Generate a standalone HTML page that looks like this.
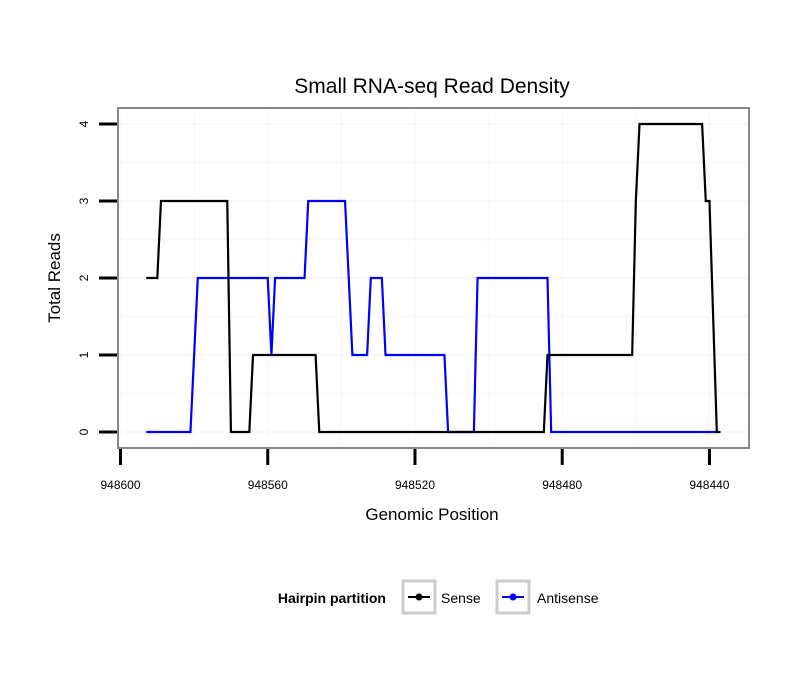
<!DOCTYPE html>
<html><head><meta charset="utf-8"><style>
body{margin:0;background:#fff;}
svg text{font-family:"Liberation Sans",sans-serif;}
</style></head><body>
<svg id="chart" width="810" height="690" xmlns="http://www.w3.org/2000/svg">
<rect width="810" height="690" fill="#fff"/>
<text x="432" y="93" font-size="21" text-anchor="middle">Small RNA-seq Read Density</text>
<g id="grid"></g>
<g id="series"></g>
<rect x="118" y="108" width="631" height="340" fill="none" stroke="#888" stroke-width="2"/>
<g id="axes"></g>
<text x="432" y="520" font-size="17" text-anchor="middle">Genomic Position</text>
<text transform="translate(60,278) rotate(-90)" font-size="17" text-anchor="middle">Total Reads</text>
<g>
<text x="386" y="603" font-size="14" font-weight="bold" text-anchor="end">Hairpin partition</text>
<g>
<rect x="403" y="581" width="32" height="32" fill="#fff" stroke="#ccc" stroke-width="3"/>
<line x1="408" y1="597" x2="430" y2="597" stroke="#000" stroke-width="2"/>
<circle cx="419" cy="597" r="3.5" fill="#000"/>
<text x="441" y="603" font-size="14">Sense</text>
</g>
<g>
<rect x="497" y="581" width="32" height="32" fill="#fff" stroke="#ccc" stroke-width="3"/>
<line x1="502" y1="597" x2="524" y2="597" stroke="#00f" stroke-width="2"/>
<circle cx="513" cy="597" r="3.5" fill="#00f"/>
<text x="537" y="603" font-size="14">Antisense</text>
</g>
</g>
</svg>
<script>
const senseX=[948593,948590,948589,948571,948570,948565,948564,948547,948546,948485,948484,948461,948460,948459,948442,948441,948440,948438,948437];
const senseY=[2,2,3,3,0,0,1,1,0,0,1,1,3,4,4,3,3,0,0];
const antiX=[948593,948581,948579,948560,948559,948558,948550,948549,948539,948537,948533,948532,948529,948528,948512,948511,948504,948503,948484,948483,948438];
const antiY=[0,0,2,2,1,2,2,3,3,1,1,2,2,1,1,0,0,2,2,0,0];
const xTicks=[948600,948560,948520,948480,948440];
const yTicks=[0,1,2,3,4];
const NS="http://www.w3.org/2000/svg";
function xs(v){return 120.5+(948600-v)*3.681;}
function ys(v){return 432-v*77;}
function mk(tag,attrs,parent){const e=document.createElementNS(NS,tag);for(const k in attrs)e.setAttribute(k,attrs[k]);parent.appendChild(e);return e;}
const grid=document.getElementById('grid'),axes=document.getElementById('axes'),ser=document.getElementById('series');
for(let v=948600;v>=948420;v-=20){const x=xs(v);if(x<119||x>748)continue;
const l=mk('line',{x1:x,x2:x,y1:109,y2:447,stroke:'#f9f9f9','stroke-width':2},grid);

}
for(let v=0;v<=4.5;v+=0.5){const y=ys(v);if(y<109)continue;
const l=mk('line',{x1:119,x2:748,y1:y,y2:y,stroke:'#f9f9f9','stroke-width':2},grid);

}
xTicks.forEach(t=>{const x=xs(t);
const l=mk('line',{x1:x,x2:x,y1:449,y2:465,stroke:'#000','stroke-width':3},axes);


const tx=mk('text',{x:x,y:489,'font-size':12,'text-anchor':'middle'},axes);tx.textContent=t;

});
yTicks.forEach(t=>{const y=ys(t);
const l=mk('line',{x1:99,x2:117,y1:y,y2:y,stroke:'#000','stroke-width':3},axes);


const tx=mk('text',{transform:`translate(88,${y}) rotate(-90)`,'font-size':12,'text-anchor':'middle'},axes);tx.textContent=t;

});
function line(X,Y,c,name){const p=mk('polyline',{points:X.map((v,i)=>xs(v)+','+ys(Y[i])).join(' '),fill:'none',stroke:c,'stroke-width':2.2,'stroke-linejoin':'miter'},ser);

}
line(antiX,antiY,'#00f','antisense-line');
line(senseX,senseY,'#000','sense-line');
</script>
</body></html>
